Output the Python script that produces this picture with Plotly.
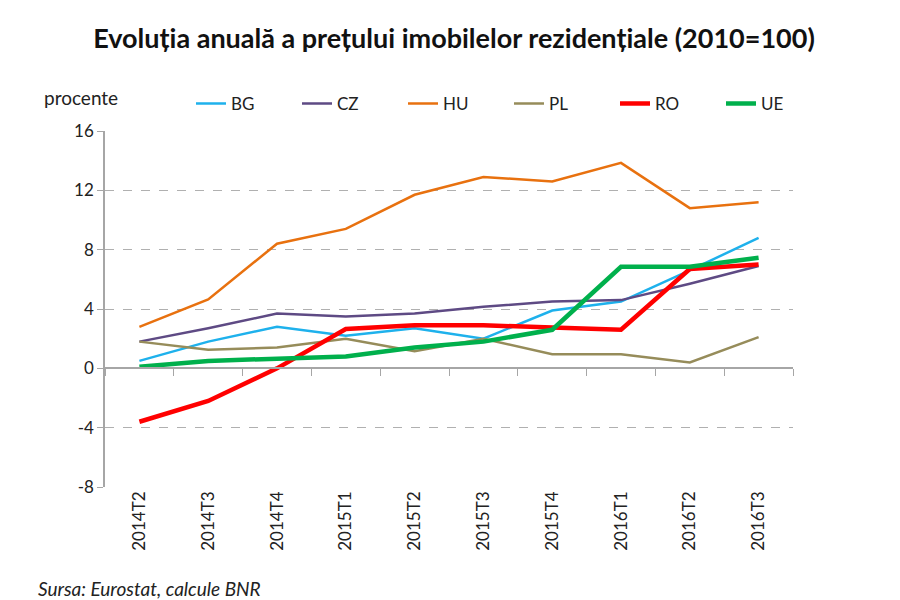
import plotly.graph_objects as go

quarters = ['2014T2', '2014T3', '2014T4', '2015T1', '2015T2',
            '2015T3', '2015T4', '2016T1', '2016T2', '2016T3']

bg = [0.5, 1.8, 2.8, 2.2, 2.7, 2.0, 3.9, 4.5, 6.6, 8.8]
cz = [1.8, 2.7, 3.7, 3.5, 3.7, 4.15, 4.5, 4.6, 5.7, 6.9]
hu = [2.8, 4.65, 8.4, 9.4, 11.7, 12.9, 12.6, 13.85, 10.8, 11.2]
pl = [1.8, 1.25, 1.4, 2.0, 1.15, 2.0, 0.95, 0.95, 0.4, 2.1]
ro = [-3.6, -2.2, 0.0, 2.65, 2.9, 2.9, 2.75, 2.6, 6.7, 7.0]
ue = [0.1, 0.5, 0.65, 0.8, 1.4, 1.8, 2.6, 6.85, 6.85, 7.45]

y_ticks = [-8, -4, 0, 4, 8, 12, 16]

series = [
    ('BG', bg, '#1eb1ec', 2.5),
    ('CZ', cz, '#5e4a84', 2.5),
    ('HU', hu, '#e8710f', 2.5),
    ('PL', pl, '#968c5a', 2.5),
    ('RO', ro, '#ff0000', 4.5),
    ('UE', ue, '#00b04c', 4.5),
]

font = 'Lato'

fig = go.Figure()
for name, vals, color, width in series:
    fig.add_trace(go.Scatter(
        x=quarters, y=vals, name=name, mode='lines',
        line=dict(color=color, width=width)))

# helper trace so the zero-level axis with category-boundary ticks is drawn
fig.add_trace(go.Scatter(
    x=[-0.5, len(quarters) - 0.5], y=[0, 0], xaxis='x2', mode='none',
    showlegend=False, hoverinfo='skip'))

# page body adds 8px, so the figure is 892x592
fig.update_layout(
    width=892, height=592,
    paper_bgcolor='white', plot_bgcolor='white',
    margin=dict(l=97, r=107, t=123, b=113, autoexpand=False),
    font=dict(family=font, size=16, color='#222222'),
    title=dict(
        text='<b>Evoluția anuală a prețului imobilelor rezidențiale (2010=100)</b>',
        x=0.5, xanchor='center', y=0.949, yanchor='middle',
        font=dict(family=font, size=27, color='#111111')),
    showlegend=True,
    legend=dict(
        orientation='h', x=0.125, xanchor='left', y=1.076, yanchor='middle',
        font=dict(family=font, size=17), entrywidth=61,
        entrywidthmode='pixels', traceorder='normal'),
    xaxis=dict(
        type='category', range=[-0.5, len(quarters) - 0.5], automargin=False,
        showgrid=False, showline=False, ticks='', zeroline=False,
        tickangle=-90, tickfont=dict(family=font, size=17)),
    xaxis2=dict(
        overlaying='x', anchor='free', position=8 / 24, automargin=False,
        range=[-0.5, len(quarters) - 0.5],
        tickvals=[i - 0.5 for i in range(len(quarters) + 1)],
        showticklabels=False, ticks='outside', ticklen=7,
        tickcolor='#a6a6a6', showline=True, linecolor='#a6a6a6',
        linewidth=1.5, showgrid=False, zeroline=False),
    yaxis=dict(
        range=[-8, 16], tickvals=y_ticks,
        ticktext=[str(v) for v in y_ticks], automargin=False,
        showgrid=True, gridcolor='#b0b0b0', griddash='dash', gridwidth=1,
        zeroline=False, showline=True, linecolor='#a6a6a6', linewidth=1.5,
        ticks='outside', ticklen=6, tickcolor='#a6a6a6',
        tickfont=dict(family=font, size=17)),
    annotations=[
        dict(text='procente', xref='paper', yref='paper',
             x=-0.0916, y=1.0955, xanchor='left', yanchor='middle',
             showarrow=False, font=dict(family=font, size=19)),
        dict(text='<i>Sursa: Eurostat, calcule BNR</i>', xref='paper',
             yref='paper', x=-0.1, y=-0.285, xanchor='left',
             yanchor='middle', showarrow=False,
             font=dict(family=font, size=19, color='#222222')),
    ],
)

fig.write_html('out.html')
